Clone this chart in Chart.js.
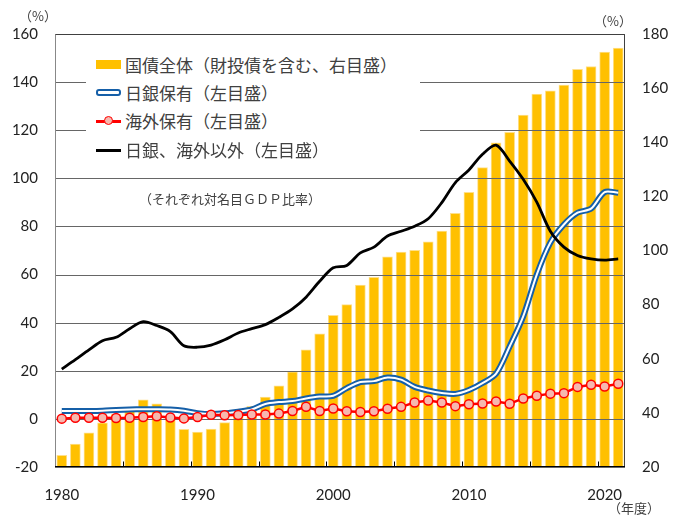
<!DOCTYPE html>
<html lang="ja">
<head>
<meta charset="utf-8">
<script src="https://cdn.jsdelivr.net/npm/chart.js@4"></script>
<style>
  body { margin: 0; background: #fff; }
  #wrap { position: relative; width: 678px; height: 516px; font-family: "Noto Sans CJK JP", sans-serif; color: #333; }
  #wrap canvas { position: absolute; left: 0; top: 0; }
  .txt { position: absolute; white-space: nowrap; line-height: 1; }
  #legendBox { position: absolute; left: 86px; top: 37px; width: 334px; height: 133px; background: #fff; }
  .row { position: absolute; left: 10px; height: 20px; width: 320px; }
  .row span { position: absolute; left: 29px; top: 0; font-size: 17px; line-height: 20px; color: #404040; }
  .sym { position: absolute; left: 0; top: 10px; width: 25px; }
</style>
</head>
<body>
<div id="wrap">
  <canvas id="debtChart" width="678" height="516"></canvas>

  <div class="txt" style="left:19px;top:9px;font-size:13px;color:#404040;">（%）</div>
  <div class="txt" style="left:594px;top:14px;font-size:13px;color:#404040;">（%）</div>
  <div class="txt" style="left:608px;top:501px;font-size:13px;color:#404040;">（年度）</div>

  <div id="legendBox">
    <div class="row" style="top:18px;">
      <div class="sym" style="top:5px;height:9px;background:#FFC000;"></div>
      <span>国債全体（財投債を含む、右目盛）</span>
    </div>
    <div class="row" style="top:46px;">
      <div class="sym" style="top:6px;height:3px;border:2px solid #155FA8;border-radius:3px;width:21px;background:#fff;"></div>
      <span>日銀保有（左目盛）</span>
    </div>
    <div class="row" style="top:74px;">
      <div class="sym" style="top:9px;height:2.5px;background:#FF0000;"></div>
      <div class="sym" style="top:5px;left:8px;width:7px;height:7px;border:1.5px solid #FF0000;border-radius:50%;background:#F6B8AF;"></div>
      <span>海外保有（左目盛）</span>
    </div>
    <div class="row" style="top:103px;">
      <div class="sym" style="top:9px;height:3px;background:#000;"></div>
      <span>日銀、海外以外（左目盛）</span>
    </div>
  </div>

  <div class="txt" style="left:139px;top:192px;font-size:13px;color:#404040;">（それぞれ対名目ＧＤＰ比率）</div>
</div>

<script>
// ---- data (% of nominal GDP) ----
const years = [1980, 1981, 1982, 1983, 1984, 1985, 1986, 1987, 1988, 1989,
               1990, 1991, 1992, 1993, 1994, 1995, 1996, 1997, 1998, 1999,
               2000, 2001, 2002, 2003, 2004, 2005, 2006, 2007, 2008, 2009,
               2010, 2011, 2012, 2013, 2014, 2015, 2016, 2017, 2018, 2019,
               2020, 2021];

// JGB total incl. FILP bonds (right axis)
const jgbTotal = [24.3, 28.5, 32.6, 36.3, 39.5, 41.5, 44.8, 43.3, 38.5, 33.9,
                  32.9, 34.0, 36.4, 39.5, 42.4, 45.8, 50.0, 55.2, 63.3, 69.2,
                  76.0, 80.0, 87.2, 90.1, 97.7, 99.4, 100.1, 103.2, 107.2, 113.7,
                  121.5, 130.6, 139.8, 143.7, 150.0, 157.8, 159.0, 161.1, 166.9, 168.0,
                  173.3, 174.8];

// held by BoJ (left axis)
const bojHolding = [3.3, 3.3, 3.3, 3.4, 3.7, 3.9, 4.0, 4.0, 3.9, 3.4,
                    2.4, 2.0, 2.3, 3.0, 3.9, 6.2, 7.0, 7.4, 8.5, 9.3,
                    9.6, 12.8, 15.3, 15.7, 17.2, 16.3, 13.3, 11.8, 10.8, 10.4,
                    12.0, 14.9, 18.8, 30.1, 42.6, 60.0, 73.3, 80.8, 85.7, 87.4,
                    94.3, 94.0];

// held overseas (left axis)
const foreignHolding = [0.1, 0.5, 0.5, 0.5, 0.4, 0.5, 0.8, 1.1, 0.6, 0.2,
                        0.8, 1.7, 1.5, 1.6, 1.8, 1.8, 2.2, 3.3, 5.0, 3.3,
                        4.3, 3.2, 2.9, 3.2, 4.2, 5.0, 6.8, 7.6, 6.8, 5.3,
                        6.1, 6.4, 7.2, 6.3, 8.5, 9.6, 10.5, 10.7, 13.3, 14.2,
                        13.5, 14.6];

// other than BoJ and overseas (left axis)
const otherHolding = [20.7, 24.6, 28.7, 32.5, 33.9, 37.5, 40.4, 38.8, 36.3, 30.4,
                      29.8, 30.7, 32.9, 35.7, 37.5, 39.2, 42.2, 45.7, 50.6, 57.2,
                      62.8, 63.8, 69.0, 71.4, 76.0, 78.0, 80.1, 83.2, 89.9, 98.2,
                      103.5, 110.0, 113.8, 107.2, 99.6, 90.1, 78.0, 71.4, 67.9, 66.5,
                      66.0, 66.5];

const leftTicks = { min: -20, max: 160, step: 20 };
const rightTicks = { min: 20, max: 180, step: 20 };

const tickFont = { family: 'Lato', size: 15 };

// gridlines go on top of the bars but under the lines
const gridAfterBars = {
    id: 'gridAfterBars',
    afterDatasetDraw(chart, args) {
        if (args.index !== 0) return;
        const y = chart.scales.y;
        const area = chart.chartArea;
        const ctx = chart.ctx;
        ctx.save();
        ctx.strokeStyle = '#666';
        ctx.lineWidth = 1;
        y.ticks.forEach(t => {
            const py = Math.round(y.getPixelForValue(t.value)) + 0.5;
            ctx.beginPath();
            ctx.moveTo(area.left, py);
            ctx.lineTo(area.right, py);
            ctx.stroke();
        });
        ctx.restore();
    }
};

// plot frame + small inner ticks every 5 years
const frame = {
    id: 'frame',
    afterDraw(chart) {
        const { ctx, chartArea: a, scales: { x } } = chart;
        const l = Math.round(a.left) + 0.5, r = Math.round(a.right) - 0.5;
        const t = Math.round(a.top) + 0.5, b = Math.round(a.bottom) - 0.5;
        ctx.save();
        ctx.lineWidth = 1;
        ctx.strokeStyle = '#404040';
        ctx.beginPath();
        ctx.moveTo(l, t); ctx.lineTo(r, t); ctx.lineTo(r, b);
        ctx.stroke();
        ctx.strokeStyle = '#888';
        ctx.beginPath();
        ctx.moveTo(l, t); ctx.lineTo(l, b);
        ctx.stroke();
        ctx.strokeStyle = '#000';
        ctx.beginPath();
        ctx.moveTo(a.left, b); ctx.lineTo(a.right, b);
        const half = (x.getPixelForValue(1) - x.getPixelForValue(0)) / 2;
        years.forEach((yr, i) => {
            if (yr % 5 !== 0 || i === 0) return;
            const px = Math.round(x.getPixelForValue(i) - half) + 0.5;
            ctx.moveTo(px, b);
            ctx.lineTo(px, b - 5);
        });
        ctx.stroke();
        ctx.restore();
    }
};

new Chart(document.getElementById('debtChart'), {
    type: 'bar',
    data: {
        labels: years,
        datasets: [
            {
                type: 'bar',
                data: jgbTotal,
                yAxisID: 'y1',
                backgroundColor: '#FFC000',
                borderColor: '#FFE08A',
                borderWidth: 1,
                borderSkipped: 'start',
                barThickness: 10,
                order: 10
            },
            {
                type: 'line',
                data: bojHolding,
                yAxisID: 'y',
                borderColor: '#155FA8',
                borderWidth: 6,
                pointRadius: 0,
                tension: 0.3,
                order: 5
            },
            {
                type: 'line',
                data: bojHolding,
                yAxisID: 'y',
                borderColor: '#fff',
                borderWidth: 2,
                pointRadius: 0,
                tension: 0.3,
                order: 4
            },
            {
                type: 'line',
                data: foreignHolding,
                yAxisID: 'y',
                borderColor: '#FF0000',
                borderWidth: 2.5,
                pointRadius: 4.5,
                pointBorderWidth: 1.5,
                pointBorderColor: '#FF0000',
                pointBackgroundColor: '#F6B8AF',
                tension: 0,
                order: 3
            },
            {
                type: 'line',
                data: otherHolding,
                yAxisID: 'y',
                borderColor: '#000',
                borderWidth: 2.8,
                pointRadius: 0,
                tension: 0.3,
                order: 2
            }
        ]
    },
    options: {
        responsive: false,
        animation: false,
        devicePixelRatio: 1,
        layout: { padding: { top: 34, left: 0, right: 0, bottom: 0 } },
        plugins: {
            legend: { display: false },
            tooltip: { enabled: false }
        },
        scales: {
            x: {
                offset: true,
                grid: { display: false },
                border: { display: false },
                ticks: {
                    autoSkip: false,
                    maxRotation: 0,
                    padding: 11,
                    color: '#222',
                    font: tickFont,
                    callback: (v, i) => (years[i] % 10 === 0 ? String(years[i]) : '')
                },
                afterFit: s => { s.height = 49; }
            },
            y: {
                position: 'left',
                min: leftTicks.min,
                max: leftTicks.max,
                grid: { drawOnChartArea: false, drawTicks: false },
                border: { display: false },
                ticks: { stepSize: leftTicks.step, padding: 17, color: '#222', font: tickFont },
                afterFit: s => { s.width = 55; }
            },
            y1: {
                position: 'right',
                min: rightTicks.min,
                max: rightTicks.max,
                grid: { drawOnChartArea: false, drawTicks: false },
                border: { display: false },
                ticks: { stepSize: rightTicks.step, padding: 17, color: '#222', font: tickFont },
                afterFit: s => { s.width = 53; }
            }
        }
    },
    plugins: [gridAfterBars, frame]
});
</script>
</body>
</html>
